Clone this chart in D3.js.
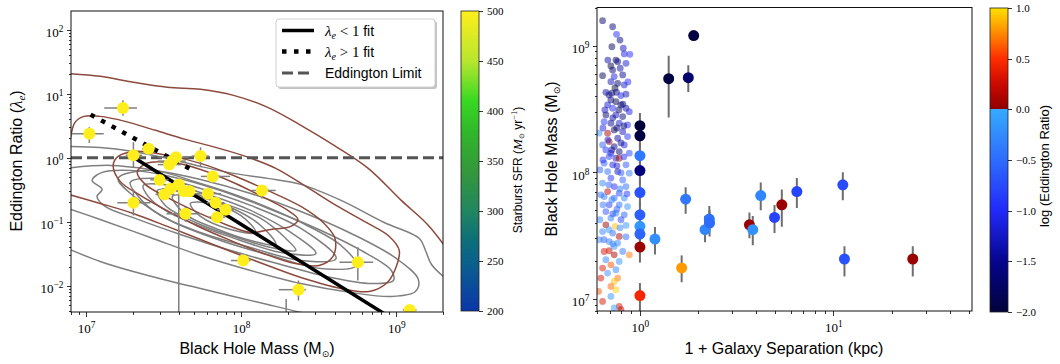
<!DOCTYPE html>
<html>
<head>
<meta charset="utf-8">
<script src="https://cdn.jsdelivr.net/npm/d3@7"></script>
<style>
  body { margin: 0; background: #fff; }
  svg text { font-family: "Liberation Sans", Arial, "DejaVu Sans", sans-serif; fill: #000; }
  .serif { font-family: "Liberation Serif", "DejaVu Serif", serif; }
  .axis line { stroke: #000; stroke-width: 0.8; shape-rendering: crispEdges; }
  .axis path.domain { display: none; }
</style>
</head>
<body>
<svg id="fig" width="1060" height="364"></svg>
<script>
// ---------- left panel: Eddington ratio vs black hole mass ----------
const bhMass   = [1.73e7, 1.05e7, 2.02e7, 2.53e7, 3.8e7, 3.59e7, 3.44e7, 5.47e7, 6.56e7, 2.98e7, 2.02e7, 3.96e7, 3.5e7, 3.2e7,
                  4.27e7, 4.64e7, 6.1e7, 6.84e7, 7.94e7, 7.0e7, 4.37e7, 1.36e8, 1.03e8, 5.65e8, 2.34e8, 1.22e9, 1.95e8];
const eddRatio = [5.96, 2.37, 1.09, 1.38, 1.02, 0.885, 0.78, 1.06, 0.51, 0.45, 0.198, 0.383, 0.328, 0.267,
                  0.30, 0.30, 0.274, 0.198, 0.154, 0.118, 0.133, 0.308, 0.0248, 0.0234, 0.0087, 0.0042, 0.002];
const massLo   = [1.31e7, 6e6, 1.8e7, 2.3e7, 2.9e7, 2.9e7, 2.9e7, 4.8e7, 5.5e7, 2.6e7, 1.59e7, 3.6e7, 3.1e7, 2.8e7,
                  3.8e7, 4.1e7, 5.0e7, 6.0e7, 7.0e7, 6.2e7, 3.3e7, 1.15e8, 8.6e7, 4.3e8, 1.75e8, 1.1e9, 1.95e8];
const massHi   = [2.13e7, 1.3e7, 2.3e7, 2.8e7, 4.6e7, 4.4e7, 4.1e7, 6.2e7, 8.5e7, 3.4e7, 2.6e7, 4.4e7, 4.0e7, 3.7e7,
                  4.8e7, 5.2e7, 7.4e7, 7.8e7, 9.0e7, 7.9e7, 5.5e7, 1.67e8, 1.15e8, 7.1e8, 2.61e8, 1.35e9, 1.95e8];
const ratioLo  = [4.5, 1.7, 0.7, 1.2, 0.9, 0.75, 0.68, 0.72, 0.42, 0.38, 0.125, 0.0001, 0.28, 0.22,
                  0.25, 0.25, 0.22, 0.16, 0.13, 0.10, 0.10, 0.23, 0.021, 0.0121, 0.0059, 0.0035, 0.0005];
const ratioHi  = [7.9, 3.0, 1.75, 1.6, 1.15, 1.0, 0.9, 1.45, 0.62, 0.52, 0.31, 0.47, 0.38, 0.32,
                  0.36, 0.36, 0.34, 0.24, 0.18, 0.14, 0.17, 0.37, 0.029, 0.040, 0.0121, 0.005, 0.0062];
const sfr      = [500, 500, 500, 500, 500, 500, 500, 500, 500, 500, 500, 500, 500, 500,
                  500, 500, 500, 500, 500, 500, 500, 500, 500, 500, 500, 500, 500];

// fits: [mass, ratio] end points
const fitLowMass = [2.02e7, 1.0e9],  fitLowRatio = [1.02, 0.0028];
const fitHighMass = [1.07e7, 4.9e7], fitHighRatio = [4.7, 0.63];
const eddLimit = 1;

// density contours, [log10 mass, log10 ratio]
const brownOpen = [
  [[6.864,1.317],[7.091,1.270],[7.304,1.177],[7.524,1.098],[7.738,1.067],[7.951,0.973],[8.171,0.786],[8.385,0.505],
   [8.599,0.192],[8.819,-0.167],[9.032,-0.667],[9.207,-1.058],[9.356,-1.527]],
  [[6.890,0.114],[6.903,0.348],[6.929,0.552],[6.987,0.645],[7.091,0.645],[7.252,0.567],[7.447,0.427],[7.641,0.286],
   [7.835,0.161],[8.029,0.020],[8.223,-0.167],[8.417,-0.448],[8.612,-0.745],[8.806,-1.011],[8.955,-1.230],[9.019,-1.448],
   [9.000,-1.698],[8.942,-1.948],[8.825,-2.089],[8.644,-2.042],[8.385,-1.870],[8.171,-1.683],[7.951,-1.480],[7.738,-1.277],
   [7.524,-1.073],[7.304,-0.870],[7.091,-0.714],[6.864,-0.558]]
];
const brownClosed = [
  [[7.175,-0.120],[7.207,0.020],[7.317,0.098],[7.524,0.036],[7.738,-0.089],[7.951,-0.277],[8.171,-0.511],[8.385,-0.761],
   [8.528,-1.011],[8.605,-1.261],[8.592,-1.542],[8.502,-1.683],[8.320,-1.636],[8.126,-1.480],[7.932,-1.292],[7.738,-1.089],
   [7.544,-0.855],[7.350,-0.589],[7.220,-0.370]],
  [[7.330,-0.230],[7.388,-0.089],[7.544,-0.073],[7.738,-0.183],[7.964,-0.402],[8.158,-0.636],[8.301,-0.823],[8.366,-0.964],
   [8.320,-1.073],[8.191,-1.120],[8.061,-1.167],[7.900,-1.042],[7.706,-0.839],[7.511,-0.605],[7.382,-0.417]]
];
const grayOpen = [
  [[6.864,0.177],[7.091,0.161],[7.304,0.098],[7.524,-0.011],[7.738,-0.136],[7.951,-0.245],[8.171,-0.323],[8.385,-0.417],
   [8.644,-0.667],[8.922,-1.011],[9.149,-1.261],[9.188,-1.448],[9.227,-1.667],[9.311,-1.870],[9.421,-2.073]],
  [[6.864,-1.402],[7.091,-1.620],[7.304,-1.777],[7.524,-1.917],[7.738,-2.042],[7.951,-2.167],[8.171,-2.292],[8.385,-2.417],[8.579,-2.542]],
  [[6.864,-0.167],[7.155,-0.120],[7.414,-0.183],[7.738,-0.339],[8.061,-0.558],[8.385,-0.839],[8.709,-1.183],[9.000,-1.573],
   [9.142,-1.902],[9.123,-2.089],[8.968,-2.167],[8.709,-2.105],[8.385,-1.964],[8.061,-1.761],[7.738,-1.527],[7.414,-1.245],
   [7.091,-0.964],[6.864,-0.777]]
];
const grayClosed = [
  [[7.039,-0.355],[7.104,-0.230],[7.285,-0.198],[7.544,-0.292],[7.867,-0.511],[8.191,-0.808],[8.515,-1.136],[8.773,-1.448],
   [8.968,-1.761],[8.981,-1.917],[8.838,-1.964],[8.579,-1.870],[8.256,-1.667],[7.932,-1.448],[7.608,-1.198],[7.317,-0.948],
   [7.123,-0.761],[7.071,-0.605],[7.104,-0.495]],
  [[7.207,-0.323],[7.414,-0.198],[7.738,-0.402],[8.061,-0.667],[8.385,-1.011],[8.644,-1.370],[8.741,-1.683],[8.515,-1.730],
   [8.191,-1.527],[7.867,-1.292],[7.544,-0.980],[7.317,-0.620]],
  [[7.285,-0.386],[7.479,-0.323],[7.738,-0.480],[8.061,-0.745],[8.385,-1.105],[8.612,-1.573],[8.385,-1.605],[8.061,-1.402],
   [7.738,-1.167],[7.479,-0.902],[7.337,-0.605]],
  [[7.369,-0.433],[7.544,-0.433],[7.803,-0.589],[8.061,-0.823],[8.320,-1.167],[8.482,-1.495],[8.256,-1.480],[7.997,-1.292],
   [7.738,-1.073],[7.511,-0.823],[7.401,-0.605]],
  [[7.460,-0.511],[7.608,-0.511],[7.867,-0.698],[8.126,-0.948],[8.288,-1.261],[8.353,-1.448],[8.191,-1.402],[7.932,-1.214],
   [7.706,-1.011],[7.511,-0.745]],
  [[7.557,-0.605],[7.706,-0.605],[7.932,-0.777],[8.126,-1.058],[8.223,-1.355],[8.061,-1.292],[7.835,-1.105],[7.641,-0.886]],
  [[7.673,-0.714],[7.803,-0.714],[7.997,-0.902],[8.094,-1.167],[7.932,-1.120],[7.738,-0.917]]
];

const sfrTicks = [200, 250, 300, 350, 400, 450, 500];

// ---------- right panel: black hole mass vs separation ----------
const sepKpc   = [1, 1, 1, 1, 1, 1, 1, 1, 1, 1, 1.196, 1.408, 1.778, 1.896, 1.723, 1.643, 2.17, 2.283, 2.29,
                  3.68, 3.83, 4.21, 4.96, 5.41, 6.47, 11.18, 11.4, 25.7];
const pairMass = [2.33e8, 1.94e8, 1.35e8, 1.03e8, 6.9e7, 4.6e7, 3.73e7, 3.24e7, 2.56e7, 1.06e7, 2.96e7, 5.48e8, 5.58e8, 1.2e9,
                  6.12e7, 1.75e7, 3.51e7, 4.26e7, 3.96e7, 3.84e7, 3.51e7, 6.53e7, 4.39e7, 5.52e7, 7.03e7, 7.94e7, 2.06e7, 2.06e7];
const pairMassLo = [1.85e8, 1.55e8, 1.05e8, 8.0e7, 5.3e7, 3.6e7, 2.9e7, 2.55e7, 1.93e7, 7e6, 2.24e7, 2.7e8, 4.3e8, 1.2e9,
                  4.7e7, 1.35e7, 2.8e7, 3.4e7, 3.1e7, 3.0e7, 2.65e7, 5.0e7, 3.3e7, 3.7e7, 5.2e7, 6.0e7, 1.5e7, 1.5e7];
const pairMassHi = [2.93e8, 2.4e8, 1.7e8, 1.3e8, 8.8e7, 5.8e7, 4.7e7, 4.1e7, 3.25e7, 1.33e7, 3.68e7, 8.3e8, 7.0e8, 1.2e9,
                  7.6e7, 2.2e7, 4.5e7, 5.4e7, 5.0e7, 4.8e7, 4.5e7, 8.3e7, 5.5e7, 7.3e7, 9.0e7, 1.0e8, 2.6e7, 2.6e7];
const pairLogEdd = [-2.0, -1.95, -0.4, -1.6, -0.7, -0.6, -0.15, -0.55, 0.05, 0.45, -0.2, -1.95, -1.7, -1.95,
                  -0.4, 0.8, -0.3, -0.45, -0.5, 0.05, -0.2, -0.3, -0.8, 0.05, -0.8, -0.75, -0.7, 0.05];

// comparison sample (log10 values)
const cloudLogSep = [-0.193,-0.141,-0.121,-0.145,-0.086,-0.081,-0.052,-0.124,-0.115,-0.072,-0.150,-0.102,-0.141,-0.193,-0.133,
  -0.089,-0.150,-0.115,-0.081,-0.176,-0.145,-0.121,-0.098,-0.072,-0.150,-0.124,-0.167,-0.098,-0.141,-0.072,-0.055,-0.176,-0.124,
  -0.089,-0.185,-0.150,-0.107,-0.064,-0.133,-0.167,-0.089,-0.211,-0.159,-0.115,-0.064,-0.193,-0.133,-0.081,-0.150,-0.107,-0.055,
  -0.124,-0.159,-0.107,-0.185,-0.141,-0.072,-0.167,-0.115,-0.055,-0.150,-0.089,-0.193,-0.133,-0.072,-0.167,-0.107,-0.185,-0.133,
  -0.081,-0.159,-0.107,-0.064,-0.176,-0.124,-0.081,-0.150,-0.098,-0.128,-0.176,-0.072,-0.193,-0.141,-0.107,-0.211,-0.159,-0.115,
  -0.185,-0.159,-0.133,-0.089,-0.055,-0.133,-0.176,-0.107,-0.150,-0.193,-0.124,-0.167,-0.202,-0.115,-0.133,-0.150,-0.124,-0.214,
  -0.150,-0.193,-0.107,-0.133,-0.098,-0.160,-0.109,-0.140,-0.083,-0.166,-0.098,-0.145,-0.083,-0.176,-0.119,-0.098,-0.160,-0.103,
  -0.145,-0.067,-0.119,-0.191,-0.140,-0.103,-0.160,-0.072,-0.140,-0.186,-0.207,-0.202,-0.207,-0.191,-0.181,-0.062,-0.166,-0.103,
  -0.129,-0.191,-0.119,-0.088];
const cloudLogMass = [9.197,9.149,9.089,8.991,8.979,8.934,8.931,8.886,8.873,8.860,8.839,8.821,8.807,8.762,8.755,
  8.768,8.715,8.702,8.689,8.631,8.624,8.631,8.605,8.616,8.571,8.557,8.531,8.531,8.505,8.505,8.478,8.452,8.452,
  8.439,8.399,8.387,8.387,8.373,8.334,8.308,8.320,8.308,8.242,8.268,8.281,8.215,8.202,8.215,8.150,8.163,8.150,
  8.110,8.123,8.110,8.071,8.058,8.058,8.005,8.005,7.992,7.953,7.939,7.913,7.886,7.886,7.847,7.834,7.807,7.795,
  7.795,7.742,7.742,7.728,7.689,7.676,7.663,7.637,7.624,7.571,7.584,7.579,7.531,7.519,7.492,7.466,7.452,7.440,
  7.373,7.379,7.413,7.373,7.347,7.347,7.308,7.294,7.268,7.242,7.229,7.203,7.163,7.163,7.137,7.097,7.071,7.058,
  7.018,6.979,6.939,6.927,6.913,8.610,8.492,8.429,8.365,8.255,8.231,8.176,8.121,8.176,8.050,7.995,7.900,7.868,
  7.782,7.829,7.707,7.742,7.671,7.560,7.545,7.489,7.434,7.466,7.624,7.821,8.018,8.097,8.492,8.713,8.886,9.044,
  8.665,8.349,8.349,8.538];
const cloudLogEdd = [-1.7,-1.6,-1.0,-1.8,-1.3,-1.1,-1.0,-1.9,-1.5,-1.2,-1.9,-1.4,-1.6,-1.8,-1.1,
  -1.5,-1.3,-1.7,-1.2,-1.4,-1.8,-1.5,-1.1,-1.3,-1.6,-1.9,-1.2,-1.5,-1.0,-1.4,-1.1,-1.7,-1.3,
  -1.6,-0.9,-1.5,-1.2,-1.0,-1.8,0.1,-1.3,-0.2,0.05,-1.4,-0.9,-0.6,-1.6,-1.1,-1.2,-1.7,-0.8,
  -1.3,-0.9,0.1,-0.6,-1.1,-0.7,-0.5,-1.3,-0.4,-0.9,-0.6,-0.3,-1.0,-0.5,0.2,-0.8,-0.4,-0.6,
  -0.3,-0.9,-0.5,-0.2,-0.7,-0.3,-0.6,-0.4,-0.8,0.9,0.05,-0.2,-0.3,-0.5,0.1,-0.2,-0.4,-0.3,
  0.3,0.25,-0.2,-0.4,0.7,0.1,-0.3,-0.2,0.6,0.35,-0.3,-0.2,0.3,0.7,0.9,0.65,0.95,0.6,
  -0.2,0.3,0.3,-0.1,0.2,-1.5,-1.8,-1.4,-1.6,-1.2,-1.5,-1.4,-1.0,-0.9,-1.2,-0.7,-0.6,-0.4,
  -0.3,-0.9,-0.6,-0.4,-0.7,-0.3,-0.2,-0.5,-0.3,-0.6,-0.3,-0.5,-0.6,-1.0,-1.3,-1.0,-1.4,-1.6,
  -1.9,-1.1,-1.7,-1.7];

const eddTicks = [-2.0, -1.5, -1.0, -0.5, 0.0, 0.5, 1.0];

// ---------- helpers ----------
function translation(x, y) {
  return 'translate(' + x + ',' + y + ')';
}

const svg = d3.select('#fig');

const sfrColor = d3.scaleLinear()
  .domain([200, 240, 270, 300, 340, 380, 410, 450, 500])
  .range(['#0a36a8', '#0a5a92', '#0b6f7a', '#218660', '#33983a', '#31b82a', '#38d822', '#b8e62e', '#ffee1c'])
  .clamp(true);

const eddLow = d3.scaleLinear().domain([-2, -1.5, -1, -0.5, 0])
  .range(['#02023a', '#05058e', '#2229fa', '#2d6cff', '#36aaff']).clamp(true);
const eddHigh = d3.scaleLinear().domain([0, 0.25, 0.5, 0.75, 1])
  .range(['#8e0000', '#cc0800', '#ff2d00', '#ff8a00', '#ffe000']).clamp(true);
const eddColor = v => (v < 0 ? eddLow(v) : eddHigh(v));

function logLabels(g, size) {
  g.selectAll('.tick text').each(function (d) {
    const e = Math.round(Math.log10(d));
    const t = d3.select(this).text(null).attr('class', 'serif').attr('font-size', size);
    t.append('tspan').text('10');
    t.append('tspan').attr('dy', '-0.55em').attr('font-size', (size * 0.72) + 'px')
      .text(e < 0 ? '\u2212' + (-e) : e);
  });
}

function logAxes(xScale, yScale, box) {
  const isPow = v => Math.abs(Math.log10(v) - Math.round(Math.log10(v))) < 1e-6;
  const xt = xScale.ticks(), yt = yScale.ticks();
  const inX = v => v >= xScale.domain()[0] && v <= xScale.domain()[1];
  const inY = v => v >= d3.min(yScale.domain()) && v <= d3.max(yScale.domain());

  svg.append('g').attr('class', 'axis').attr('transform', translation(0, box.bottom))
    .call(d3.axisBottom(xScale).tickValues(xt.filter(v => !isPow(v) && inX(v))).tickSize(2.5).tickFormat(''));
  const gx = svg.append('g').attr('class', 'axis').attr('transform', translation(0, box.bottom))
    .call(d3.axisBottom(xScale).tickValues(xt.filter(v => isPow(v) && inX(v))).tickSize(4.5).tickPadding(7));
  logLabels(gx, 13);

  svg.append('g').attr('class', 'axis').attr('transform', translation(box.left, 0))
    .call(d3.axisLeft(yScale).tickValues(yt.filter(v => !isPow(v) && inY(v))).tickSize(2.5).tickFormat(''));
  const gy = svg.append('g').attr('class', 'axis').attr('transform', translation(box.left, 0))
    .call(d3.axisLeft(yScale).tickValues(yt.filter(v => isPow(v) && inY(v))).tickSize(4.5).tickPadding(3));
  logLabels(gy, 13);
  gy.selectAll('.tick text').attr('dy', '0.55em');
}

function frame(box) {
  svg.append('rect')
    .attr('x', box.left).attr('y', box.top)
    .attr('width', box.right - box.left).attr('height', box.bottom - box.top)
    .attr('fill', 'none').attr('stroke', '#111').attr('stroke-width', 1);
}

function clipFor(id, box) {
  svg.append('clipPath').attr('id', id).append('rect')
    .attr('x', box.left).attr('y', box.top)
    .attr('width', box.right - box.left).attr('height', box.bottom - box.top);
  return svg.append('g').attr('clip-path', 'url(#' + id + ')');
}

function colorbar(id, box, scale, color, ticks, fmt, steps) {
  const grad = svg.append('defs').append('linearGradient').attr('id', id)
    .attr('x1', 0).attr('y1', 1).attr('x2', 0).attr('y2', 0);
  const [d0, d1] = scale.domain();
  steps.forEach(v => {
    grad.append('stop').attr('offset', (v - d0) / (d1 - d0)).attr('stop-color', color(v));
  });
  svg.append('rect')
    .attr('x', box.left).attr('y', box.top)
    .attr('width', box.right - box.left).attr('height', box.bottom - box.top)
    .attr('fill', 'url(#' + id + ')').attr('stroke', '#222').attr('stroke-width', 0.8);
  const g = svg.append('g').attr('class', 'axis').attr('transform', translation(box.right, 0))
    .call(d3.axisRight(scale).tickValues(ticks).tickSize(4).tickPadding(4).tickFormat(fmt));
  g.selectAll('.tick text').attr('class', 'serif').attr('font-size', 11).attr('fill', '#333');
}

// ======================= LEFT PANEL =======================
const boxL = { left: 71, right: 443, top: 11, bottom: 312 };
const xL = d3.scaleLog().domain([8e6, 2e9]).range([boxL.left, boxL.right]);
const yL = d3.scaleLog().domain([3.9e-3, 195]).range([boxL.bottom, boxL.top]);

const plotL = clipFor('clipL', boxL);

const contourLine = d3.line()
  .x(d => xL(Math.pow(10, d[0])))
  .y(d => yL(Math.pow(10, d[1])));

function contours(list, color, closed) {
  plotL.append('g').selectAll('path')
    .data(list)
    .enter().append('path')
    .attr('d', d => contourLine.curve(closed ? d3.curveCatmullRomClosed.alpha(0.5) : d3.curveCatmullRom.alpha(0.5))(d))
    .attr('fill', 'none')
    .attr('stroke', color)
    .attr('stroke-width', 1.5);
}
contours(grayOpen, '#7f7f7f', false);
contours(grayClosed, '#7f7f7f', true);
contours(brownOpen, '#8c4a3c', false);
contours(brownClosed, '#8c4a3c', true);

// Eddington limit and fits
plotL.append('line')
  .attr('x1', boxL.left).attr('x2', boxL.right)
  .attr('y1', yL(eddLimit)).attr('y2', yL(eddLimit))
  .attr('stroke', '#555').attr('stroke-width', 3).attr('stroke-dasharray', '11,5');

const fitLine = d3.line().x(d => xL(d[0])).y(d => yL(d[1]));
plotL.append('path')
  .attr('d', fitLine(d3.zip(fitLowMass, fitLowRatio)))
  .attr('stroke', '#000').attr('stroke-width', 3.5).attr('fill', 'none');
plotL.append('path')
  .attr('d', fitLine(d3.zip(fitHighMass, fitHighRatio)))
  .attr('stroke', '#000').attr('stroke-width', 4.5).attr('fill', 'none')
  .attr('stroke-dasharray', '4.5,7.5');

// error bars
const errL = plotL.append('g').attr('stroke', '#808080').attr('stroke-width', 1.5);
bhMass.forEach((m, i) => {
  errL.append('line')
    .attr('x1', xL(massLo[i])).attr('x2', xL(massHi[i]))
    .attr('y1', yL(eddRatio[i])).attr('y2', yL(eddRatio[i]));
  errL.append('line')
    .attr('x1', xL(m)).attr('x2', xL(m))
    .attr('y1', yL(ratioLo[i])).attr('y2', yL(ratioHi[i]));
});

plotL.append('g').selectAll('circle')
  .data(bhMass)
  .enter().append('circle')
  .attr('cx', d => xL(d))
  .attr('cy', (d, i) => yL(eddRatio[i]))
  .attr('r', 6)
  .attr('fill', (d, i) => sfrColor(sfr[i]));

frame(boxL);
logAxes(xL, yL, boxL);

// legend
const lg = svg.append('g').attr('transform', translation(276, 19));
lg.append('rect').attr('x', 2).attr('y', 2).attr('width', 159).attr('height', 68).attr('rx', 3)
  .attr('fill', '#888').attr('opacity', 0.5);
lg.append('rect').attr('width', 159).attr('height', 68).attr('rx', 3)
  .attr('fill', '#fff').attr('stroke', '#d0d0d0').attr('stroke-width', 1);
const legendRows = [
  { y: 11.5, dash: null, width: 3.5, color: '#000', rel: '<' },
  { y: 32.5, dash: '4.5,7.5', width: 4.5, color: '#000', rel: '>' },
  { y: 54, dash: '11,5', width: 3, color: '#555', rel: null }
];
legendRows.forEach(r => {
  lg.append('line').attr('x1', 6).attr('x2', 38).attr('y1', r.y).attr('y2', r.y)
    .attr('stroke', r.color).attr('stroke-width', r.width).attr('stroke-dasharray', r.dash);
  const t = lg.append('text').attr('x', 49).attr('y', r.y + 5).attr('font-size', 14);
  if (r.rel) {
    t.append('tspan').attr('class', 'serif').attr('font-style', 'italic').attr('font-size', 15).text('\u03bb');
    t.append('tspan').attr('class', 'serif').attr('font-style', 'italic').attr('font-size', 10).attr('dy', 3).text('e');
    t.append('tspan').attr('class', 'serif').attr('font-size', 15).attr('dy', -3).text(' ' + r.rel + ' 1 ');
    t.append('tspan').text('fit');
  } else {
    t.text('Eddington Limit');
  }
});

// axis labels
const xLab = svg.append('text').attr('x', 257).attr('y', 354).attr('text-anchor', 'middle').attr('font-size', 16);
xLab.append('tspan').text('Black Hole Mass (M');
xLab.append('tspan').attr('font-family', 'DejaVu Sans').attr('font-size', 9).attr('dy', 3).text('\u2299');
xLab.append('tspan').attr('dy', -3).text(')');

const yLab = svg.append('text').attr('transform', translation(22, 161) + ' rotate(-90)')
  .attr('text-anchor', 'middle').attr('font-size', 16);
yLab.append('tspan').text('Eddington Ratio (');
yLab.append('tspan').attr('class', 'serif').attr('font-style', 'italic').attr('font-size', 17).text('\u03bb');
yLab.append('tspan').attr('class', 'serif').attr('font-style', 'italic').attr('font-size', 11).attr('dy', 3).text('e');
yLab.append('tspan').attr('dy', -3).text(')');

// SFR colorbar
const cbL = { left: 461, right: 479, top: 11, bottom: 311 };
const sfrScale = d3.scaleLinear().domain([200, 500]).range([cbL.bottom, cbL.top]);
colorbar('gradSfr', cbL, sfrScale, sfrColor, sfrTicks, d3.format('d'), d3.range(200, 501, 10));
const sLab = svg.append('text').attr('transform', translation(522, 170) + ' rotate(-90)')
  .attr('text-anchor', 'middle').attr('font-size', 12);
sLab.append('tspan').text('Starburst SFR (');
sLab.append('tspan').attr('class', 'serif').attr('font-style', 'italic').attr('font-size', 13).text('M');
sLab.append('tspan').attr('font-family', 'DejaVu Sans').attr('font-size', 7).attr('dy', 2).text('\u2299');
sLab.append('tspan').attr('dy', -2).text(' yr');
sLab.append('tspan').attr('class', 'serif').attr('font-size', 8.5).attr('dy', -5).text('\u22121');
sLab.append('tspan').attr('dy', 5).text(')');

// ======================= RIGHT PANEL =======================
const boxR = { left: 597, right: 972, top: 7.5, bottom: 311 };
const xR = d3.scaleLog().domain([0.6, 52]).range([boxR.left, boxR.right]);
const yR = d3.scaleLog().domain([8e6, 2e9]).range([boxR.bottom, boxR.top]);

const plotR = clipFor('clipR', boxR);

plotR.append('g').selectAll('circle')
  .data(cloudLogSep)
  .enter().append('circle')
  .attr('cx', d => xR(Math.pow(10, d)))
  .attr('cy', (d, i) => yR(Math.pow(10, cloudLogMass[i])))
  .attr('r', 3.4)
  .attr('fill', (d, i) => eddColor(cloudLogEdd[i]))
  .attr('opacity', 0.5);

const errR = plotR.append('g').attr('stroke', '#6e6e6e').attr('stroke-width', 2);
sepKpc.forEach((s, i) => {
  errR.append('line')
    .attr('x1', xR(s)).attr('x2', xR(s))
    .attr('y1', yR(pairMassLo[i])).attr('y2', yR(pairMassHi[i]));
});

plotR.append('g').selectAll('circle')
  .data(sepKpc)
  .enter().append('circle')
  .attr('cx', d => xR(d))
  .attr('cy', (d, i) => yR(pairMass[i]))
  .attr('r', 5.5)
  .attr('fill', (d, i) => eddColor(pairLogEdd[i]));

frame(boxR);
logAxes(xR, yR, boxR);

svg.append('text').attr('x', 784).attr('y', 354).attr('text-anchor', 'middle').attr('font-size', 16)
  .text('1 + Galaxy Separation (kpc)');
const yRLab = svg.append('text').attr('transform', translation(557, 159) + ' rotate(-90)')
  .attr('text-anchor', 'middle').attr('font-size', 16);
yRLab.append('tspan').text('Black Hole Mass (M');
yRLab.append('tspan').attr('font-family', 'DejaVu Sans').attr('font-size', 9).attr('dy', 3).text('\u2299');
yRLab.append('tspan').attr('dy', -3).text(')');

// Eddington ratio colorbar
const cbR = { left: 990, right: 1008, top: 8, bottom: 312 };
const eddScale = d3.scaleLinear().domain([-2, 1]).range([cbR.bottom, cbR.top]);
colorbar('gradEdd', cbR, eddScale, eddColor, eddTicks, d3.format('.1f'),
  d3.range(-2, -0.0001, 0.1).concat([-0.0001, 0]).concat(d3.range(0.1, 1.0001, 0.1)));
svg.append('text').attr('transform', translation(1049, 166) + ' rotate(-90)')
  .attr('text-anchor', 'middle').attr('font-size', 13)
  .text('log (Eddington Ratio)');
</script>
</body>
</html>
